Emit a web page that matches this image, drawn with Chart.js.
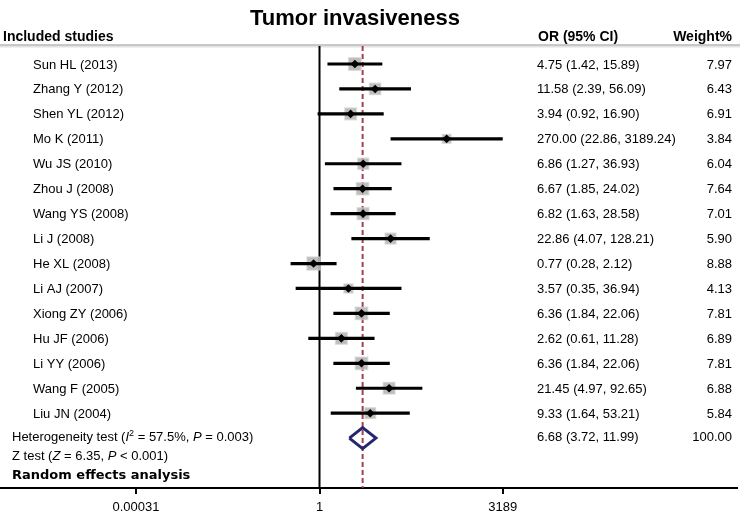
<!DOCTYPE html>
<html>
<head>
<meta charset="utf-8">
<script src="https://cdn.jsdelivr.net/npm/chart.js@4/dist/chart.umd.min.js"></script>
<style>
  html, body { margin: 0; padding: 0; background: #fff; }
  #wrap { width: 740px; height: 513px; position: relative; }
</style>
</head>
<body>
<div id="wrap"><canvas id="c"></canvas></div>
<script>
// ---- data ----
const titleText = 'Tumor invasiveness';
const studies = ['Sun HL (2013)', 'Zhang Y (2012)', 'Shen YL (2012)', 'Mo K (2011)', 'Wu JS (2010)',
  'Zhou J (2008)', 'Wang YS (2008)', 'Li J (2008)', 'He XL (2008)', 'Li AJ (2007)',
  'Xiong ZY (2006)', 'Hu JF (2006)', 'Li YY (2006)', 'Wang F (2005)', 'Liu JN (2004)'];
const oddsRatios = [4.75, 11.58, 3.94, 270.00, 6.86, 6.67, 6.82, 22.86, 0.77, 3.57, 6.36, 2.62, 6.36, 21.45, 9.33];
const ciLower = [1.42, 2.39, 0.92, 22.86, 1.27, 1.85, 1.63, 4.07, 0.28, 0.35, 1.84, 0.61, 1.84, 4.97, 1.64];
const ciUpper = [15.89, 56.09, 16.90, 3189.24, 36.93, 24.02, 28.58, 128.21, 2.12, 36.94, 22.06, 11.28, 22.06, 92.65, 53.21];
const weights = [7.97, 6.43, 6.91, 3.84, 6.04, 7.64, 7.01, 5.90, 8.88, 4.13, 7.81, 6.89, 7.81, 6.88, 5.84];
const pooledOR = 6.68;
const pooledLower = 3.72;
const pooledUpper = 11.99;
const pooledWeight = 100.00;
const iSquared = '57.5%';
const pHet = '0.003';
const zValue = '6.35';
const pZ = '0.001';
const xTicks = [0.00031, 1, 3189];
const xTickLabels = ['0.00031', '1', '3189'];

// ---- layout helpers ----
const pxPerDecade = 52.3, onePx = 319.5, areaRight = 737;
const xMin = Math.pow(10, -onePx / pxPerDecade);
const xMax = Math.pow(10, (areaRight - onePx) / pxPerDecade);
const yMin = -0.722, yMax = 17.0;
const summaryRow = studies.length;
const FONT = '"Liberation Sans", Arial, Helvetica, sans-serif';

const ciLineData = [];
studies.forEach((s, i) => {
  ciLineData.push({x: ciLower[i], y: i}, {x: ciUpper[i], y: i}, {x: null, y: null});
});
const pointData = studies.map((s, i) => ({x: oddsRatios[i], y: i}));
const dh = 0.42;
const diamondData = [
  {x: pooledLower, y: summaryRow}, {x: pooledOR, y: summaryRow - dh},
  {x: pooledUpper, y: summaryRow}, {x: pooledOR, y: summaryRow + dh},
  {x: pooledLower, y: summaryRow}
];

const fmt = v => v.toFixed(2);

const textPlugin = {
  id: 'forestText',
  beforeDraw(chart) {
    const ctx = chart.ctx;
    ctx.save();
    ctx.strokeStyle = '#e2e2e2';
    ctx.lineWidth = 3;
    ctx.beginPath(); ctx.moveTo(0, 46); ctx.lineTo(740, 46); ctx.stroke();
    ctx.strokeStyle = '#bdbdbd';
    ctx.lineWidth = 1.5;
    ctx.beginPath(); ctx.moveTo(0, 45); ctx.lineTo(740, 45); ctx.stroke();
    ctx.restore();
  },
  afterDraw(chart) {
    const ctx = chart.ctx;
    const ys = chart.scales.y;
    ctx.save();
    ctx.fillStyle = '#000';
    ctx.textBaseline = 'alphabetic';
    // title
    ctx.font = 'bold 22px ' + FONT;
    ctx.textAlign = 'center';
    ctx.fillText(titleText, 355, 25);
    // headers
    ctx.font = 'bold 14px ' + FONT;
    ctx.textAlign = 'left';
    ctx.fillText('Included studies', 3, 41);
    ctx.fillText('OR (95% CI)', 538, 41);
    ctx.textAlign = 'right';
    ctx.fillText('Weight%', 732, 41);
    // rows
    ctx.font = '13px ' + FONT;
    studies.forEach((s, i) => {
      const y = ys.getPixelForValue(i) + 4.5;
      ctx.textAlign = 'left';
      ctx.fillText(s, 33, y);
      ctx.fillText(fmt(oddsRatios[i]) + ' (' + fmt(ciLower[i]) + ', ' + fmt(ciUpper[i]) + ')', 537, y);
      ctx.textAlign = 'right';
      ctx.fillText(fmt(weights[i]), 732, y);
    });
    // summary
    const sy = 441;
    ctx.textAlign = 'left';
    ctx.fillText(fmt(pooledOR) + ' (' + fmt(pooledLower) + ', ' + fmt(pooledUpper) + ')', 537, sy);
    ctx.textAlign = 'right';
    ctx.fillText(fmt(pooledWeight), 732, sy);
    ctx.textAlign = 'left';
    const drawSegs = (segs, x, y) => {
      segs.forEach(([t, st]) => {
        if (st === 'i') ctx.font = 'italic 13px ' + FONT;
        else if (st === 'sup') ctx.font = '9px ' + FONT;
        else ctx.font = '13px ' + FONT;
        ctx.fillText(t, x, st === 'sup' ? y - 5 : y);
        x += ctx.measureText(t).width;
      });
    };
    drawSegs([['Heterogeneity test (', 'n'], ['I', 'i'], ['2', 'sup'], [' = ' + iSquared + ', ', 'n'],
      ['P', 'i'], [' = ' + pHet + ')', 'n']], 12, 441);
    drawSegs([['Z test (', 'n'], ['Z', 'i'], [' = ' + zValue + ', ', 'n'], ['P', 'i'], [' < ' + pZ + ')', 'n']], 12, 460);
    ctx.font = 'bold 13px "DejaVu Sans", sans-serif';
    ctx.fillText('Random effects analysis', 12, 479);
    ctx.restore();
  }
};

new Chart(document.getElementById('c'), {
  data: {
    datasets: [
      { // black point markers
        type: 'scatter', data: pointData, order: 0,
        pointStyle: 'rectRot', radius: 4.3, backgroundColor: '#000', borderColor: '#000', borderWidth: 0
      },
      { // CI lines
        type: 'line', data: ciLineData, order: 1, spanGaps: false,
        borderColor: '#000', borderWidth: 3.2, pointRadius: 0, fill: false
      },
      { // weight squares
        type: 'scatter', data: pointData, order: 2,
        pointStyle: 'rect',
        radius: ctx => (4.4 * Math.sqrt(weights[ctx.dataIndex] || 0)) / Math.SQRT2,
        backgroundColor: 'rgba(178,178,178,0.85)', borderColor: 'rgba(205,205,205,0.6)', borderWidth: 1.5
      },
      { // summary diamond
        type: 'line', data: diamondData, order: 1,
        borderColor: '#26266e', borderWidth: 3, pointRadius: 0, fill: false, tension: 0,
        borderJoinStyle: 'miter'
      },
      { // pooled dashed line
        type: 'line', data: [{x: pooledOR, y: yMin}, {x: pooledOR, y: yMax}], order: 3,
        borderColor: '#a3404f', borderWidth: 2, borderDash: [5, 3], pointRadius: 0
      },
      { // line of no effect
        type: 'line', data: [{x: 1, y: yMin}, {x: 1, y: yMax}], order: 4,
        borderColor: '#000', borderWidth: 2, pointRadius: 0
      }
    ]
  },
  options: {
    responsive: true,
    maintainAspectRatio: false,
    animation: false,
    events: [],
    layout: { autoPadding: false, padding: { top: 46, left: 0, right: 740 - areaRight, bottom: 0 } },
    plugins: { legend: { display: false }, tooltip: { enabled: false }, title: { display: false } },
    scales: {
      x: {
        type: 'logarithmic', position: 'bottom', min: xMin, max: xMax, bounds: 'data',
        afterBuildTicks: scale => { scale.ticks = xTicks.map(v => ({value: v})); },
        afterFit: scale => { scale.height = 25; },
        ticks: {
          autoSkip: false, maxRotation: 0, padding: 6, color: '#000',
          font: { family: FONT, size: 13 },
          callback: (v, i) => xTickLabels[i]
        },
        grid: { display: true, drawOnChartArea: false, drawTicks: true, tickLength: 6, color: '#000', lineWidth: 2 },
        border: { display: true, color: '#000', width: 2 }
      },
      y: {
        type: 'linear', min: yMin, max: yMax, reverse: true, display: false
      }
    }
  },
  plugins: [textPlugin]
});
</script>
</body>
</html>
